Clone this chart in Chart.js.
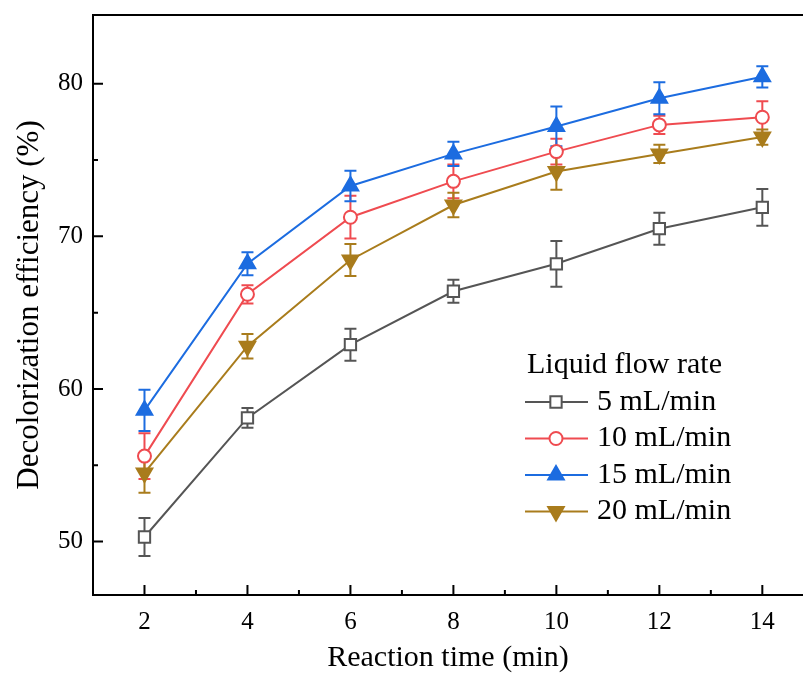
<!DOCTYPE html>
<html><head><meta charset="utf-8">
<script src="https://cdn.jsdelivr.net/npm/chart.js@4/dist/chart.umd.min.js"></script>
<style>html,body{margin:0;padding:0;background:#fff;overflow:hidden}#wrap{width:803px;height:676px;position:relative}</style>
</head><body><div id="wrap"><canvas id="c" width="803" height="676"></canvas></div>
<script>
const times = [2, 4, 6, 8, 10, 12, 14];
const seriesLabels = ['5 mL/min', '10 mL/min', '15 mL/min', '20 mL/min'];
const eff5  = [50.3, 58.1, 62.9, 66.4, 68.2, 70.5, 71.9];
const err5  = [1.25, 0.65, 1.05, 0.75, 1.5, 1.05, 1.2];
const eff10 = [55.6, 66.2, 71.25, 73.6, 75.55, 77.3, 77.8];
const err10 = [1.5, 0.6, 1.4, 1.1, 0.85, 0.6, 1.05];
const eff15 = [58.6, 68.2, 73.3, 75.4, 77.2, 79.05, 80.45];
const err15 = [1.35, 0.75, 1.0, 0.8, 1.3, 1.05, 0.7];
const eff20 = [54.5, 62.8, 68.45, 72.05, 74.25, 75.4, 76.5];
const err20 = [1.3, 0.8, 1.05, 0.8, 1.2, 0.6, 0.5];
const xTicks = [2, 4, 6, 8, 10, 12, 14];
const xMinorTicks = [3, 5, 7, 9, 11, 13];
const yTicks = [50, 60, 70, 80];
const yMinorTicks = [55, 65, 75];
const legendTitle = 'Liquid flow rate';
const xTitle = 'Reaction time (min)';
const yTitle = 'Decolorization efficiency (%)';

const FONT = 'Liberation Serif, Times New Roman, serif';
const values = [eff5, eff10, eff15, eff20];
const errors = [err5, err10, err15, err20];
const colors = ['#555555', '#EF4B50', '#1C6CE0', '#A97C1C'];
const styles = [
  {pointStyle: 'rect', radius: 8, rotation: 0, fill: '#ffffff'},
  {pointStyle: 'circle', radius: 6.5, rotation: 0, fill: '#ffffff'},
  {pointStyle: 'triangle', radius: 9, rotation: 0, fill: null},
  {pointStyle: 'triangle', radius: 9, rotation: 180, fill: null}
];

const datasets = values.map((vals, di) => ({
  label: seriesLabels[di],
  data: times.map((t, i) => ({x: t, y: vals[i]})),
  borderColor: colors[di],
  backgroundColor: colors[di],
  borderWidth: 2,
  tension: 0,
  pointStyle: styles[di].pointStyle,
  pointRadius: styles[di].radius,
  pointRotation: styles[di].rotation,
  pointBackgroundColor: styles[di].fill || colors[di],
  pointBorderColor: colors[di],
  pointBorderWidth: 2,
  clip: false
}));

const framePlugin = {
  id: 'framePlugin',
  beforeDatasetsDraw(chart) {
    const ctx = chart.ctx, xs = chart.scales.x, ys = chart.scales.y;
    chart.data.datasets.forEach((ds, di) => {
      ctx.save();
      ctx.strokeStyle = colors[di];
      ctx.lineWidth = 2;
      ds.data.forEach((p, i) => {
        const e = errors[di][i];
        const x = xs.getPixelForValue(p.x);
        const y1 = ys.getPixelForValue(p.y + e);
        const y2 = ys.getPixelForValue(p.y - e);
        ctx.beginPath();
        ctx.moveTo(x, y1); ctx.lineTo(x, y2);
        ctx.moveTo(x - 6, y1); ctx.lineTo(x + 6, y1);
        ctx.moveTo(x - 6, y2); ctx.lineTo(x + 6, y2);
        ctx.stroke();
      });
      ctx.restore();
    });
  },
  afterDraw(chart) {
    const ctx = chart.ctx, xs = chart.scales.x, ys = chart.scales.y, a = chart.chartArea;
    ctx.save();
    ctx.strokeStyle = '#000';
    ctx.lineWidth = 2;
    ctx.beginPath();
    ctx.moveTo(a.left - 1, a.top); ctx.lineTo(a.right, a.top);
    xTicks.forEach(v => { const x = xs.getPixelForValue(v); ctx.moveTo(x, a.bottom); ctx.lineTo(x, a.bottom - 10); });
    xMinorTicks.forEach(v => { const x = xs.getPixelForValue(v); ctx.moveTo(x, a.bottom); ctx.lineTo(x, a.bottom - 5); });
    yTicks.forEach(v => { const y = ys.getPixelForValue(v); ctx.moveTo(a.left, y); ctx.lineTo(a.left + 10, y); });
    yMinorTicks.forEach(v => { const y = ys.getPixelForValue(v); ctx.moveTo(a.left, y); ctx.lineTo(a.left + 5, y); });
    ctx.stroke();

    // legend
    ctx.fillStyle = '#000';
    ctx.font = '30px ' + FONT;
    ctx.textBaseline = 'middle';
    ctx.textAlign = 'left';
    ctx.fillText(legendTitle, 527, 365);
    const rowY = [402, 438.5, 475, 511.5];
    seriesLabels.forEach((lab, di) => {
      const y = rowY[di];
      ctx.strokeStyle = colors[di];
      ctx.lineWidth = 2;
      ctx.beginPath(); ctx.moveTo(525, y); ctx.lineTo(588, y); ctx.stroke();
      ctx.fillStyle = styles[di].fill || colors[di];
      ctx.strokeStyle = colors[di];
      Chart.helpers.drawPoint(ctx, {pointStyle: styles[di].pointStyle, radius: styles[di].radius, rotation: styles[di].rotation, borderWidth: 2}, 556, y);
      ctx.fillStyle = '#000';
      ctx.fillText(lab, 597, y);
    });
    ctx.restore();
  }
};

new Chart(document.getElementById('c'), {
  type: 'line',
  data: {datasets},
  options: {
    responsive: false,
    animation: false,
    layout: {autoPadding: false, padding: {top: 15, right: 0, left: 0, bottom: 0}},
    plugins: {legend: {display: false}, tooltip: {enabled: false}},
    scales: {
      x: {
        type: 'linear', min: 1, max: 14.79,
        afterBuildTicks: s => { s.ticks = xTicks.map(v => ({value: v})); },
        afterFit: s => { s.height = 81; s.paddingLeft = 0; s.paddingRight = 0; },
        grid: {display: false, drawTicks: false},
        border: {display: true, color: '#000', width: 2},
        ticks: {color: '#000', font: {family: FONT, size: 25}, padding: 12, maxRotation: 0, autoSkip: false},
        title: {display: true, text: xTitle, color: '#000', font: {family: FONT, size: 30}, padding: {top: 0, bottom: 0}}
      },
      y: {
        type: 'linear', min: 46.5, max: 84.5,
        afterBuildTicks: s => { s.ticks = yTicks.map(v => ({value: v})); },
        afterFit: s => { s.width = 93; s.paddingTop = 0; s.paddingBottom = 0; },
        grid: {display: false, drawTicks: false},
        border: {display: true, color: '#000', width: 2},
        ticks: {color: '#000', font: {family: FONT, size: 25}, padding: 10},
        title: {display: true, text: yTitle, color: '#000', font: {family: FONT, size: 31}, padding: {top: 11, bottom: 0}}
      }
    }
  },
  plugins: [framePlugin]
});
</script>
</body></html>
